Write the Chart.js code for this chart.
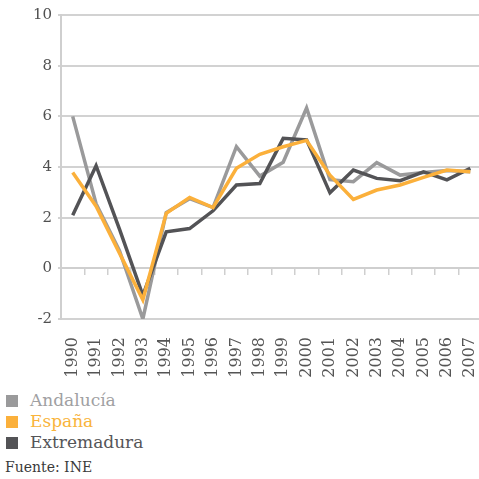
<!DOCTYPE html>
<html>
<head>
<meta charset="utf-8">
<script src="https://cdn.jsdelivr.net/npm/chart.js@4/dist/chart.umd.min.js"></script>
<style>
html,body{margin:0;padding:0;background:#fff;overflow:hidden;}
#wrap{position:relative;width:482px;height:382px;}
#legend{font-family:"DejaVu Serif",serif;font-size:17px;margin-top:8px;}
.row{height:21px;line-height:21px;display:flex;align-items:center;}
.sq{width:12px;height:12px;margin-left:6px;margin-right:12px;}
#src{font-family:"DejaVu Serif",serif;font-size:14px;color:#3a3a3a;margin:6px 0 0 5px;}
</style>
</head>
<body>
<div id="wrap"><canvas id="c"></canvas></div>
<div id="legend"></div>
<div id="src">Fuente: INE</div>
<script>
const years = ["1990","1991","1992","1993","1994","1995","1996","1997","1998","1999","2000","2001","2002","2003","2004","2005","2006","2007"];
const andalucia = [6.0, 2.55, 0.7, -2.0, 2.2, 2.75, 2.4, 4.8, 3.64, 4.19, 6.33, 3.5, 3.42, 4.17, 3.68, 3.78, 3.86, 3.81];
const espana = [3.78, 2.45, 0.6, -1.24, 2.17, 2.8, 2.4, 3.95, 4.5, 4.8, 5.05, 3.68, 2.72, 3.09, 3.29, 3.59, 3.88, 3.81];
const extremadura = [2.1, 4.05, 1.55, -1.07, 1.44, 1.57, 2.27, 3.29, 3.35, 5.13, 5.07, 2.98, 3.88, 3.55, 3.46, 3.81, 3.49, 3.95];
const seriesNames = ["Andalucía", "España", "Extremadura"];
const lineColors = ["#9a9a9b", "#fbb03b", "#535356"];
const textColors = ["#a0a0a2", "#f9b43c", "#555558"];
const yTicks = [-2, 0, 2, 4, 6, 8, 10];

const leg = document.getElementById('legend');
seriesNames.forEach((n,i)=>{
  const r=document.createElement('div');r.className='row';
  const s=document.createElement('span');s.className='sq';s.style.background=lineColors[i];
  const t=document.createElement('span');t.textContent=n;t.style.color=textColors[i];
  r.appendChild(s);r.appendChild(t);leg.appendChild(r);
});

const yFont = {family:"DejaVu Serif", size:15};
const xFont = {family:"DejaVu Serif", size:16};
new Chart(document.getElementById('c'), {
  type:'line',
  data:{
    labels: years,
    datasets:[
      {label:seriesNames[0], data:andalucia, borderColor:lineColors[0], order:2},
      {label:seriesNames[1], data:espana, borderColor:lineColors[1], order:0},
      {label:seriesNames[2], data:extremadura, borderColor:lineColors[2], order:1}
    ].map(d=>Object.assign(d,{borderWidth:3.5, pointRadius:0, tension:0, fill:false, borderJoinStyle:'miter'}))
  },
  options:{
    responsive:true, maintainAspectRatio:false, animation:false,
    layout:{padding:{top:14, right:0, left:0, bottom:0}},
    plugins:{legend:{display:false}, tooltip:{enabled:false}},
    scales:{
      x:{
        offset:true,
        grid:{display:false, drawTicks:true, tickLength:8},
        border:{display:false},
        ticks:{font:xFont, color:'#555555', minRotation:90, maxRotation:90, padding:10, autoSkip:false},
        afterFit:(s)=>{ s.height = 63; s.paddingLeft = 0; s.paddingRight = 0; }
      },
      x0:{
        type:'category', axis:'x', labels:years, offset:true,
        position:{y:0},
        grid:{drawOnChartArea:false, drawTicks:true, tickLength:6, color:'#cfcfcf', lineWidth:1.5, offset:true},
        border:{display:true, color:'#cfcfcf', width:2},
        ticks:{display:false},
        afterFit:(s)=>{ s.paddingLeft = 0; s.paddingRight = 0; }
      },
      y:{
        min:-2, max:10,
        afterBuildTicks:(s)=>{ s.ticks = yTicks.map(v=>({value:v})); },
        afterFit:(s)=>{ s.width = 61; },
        grid:{color:'#d2d2d2', lineWidth:2, drawTicks:true, tickLength:3},
        border:{display:true, color:'#cfcfcf', width:2},
        ticks:{font:yFont, color:'#505050', padding:6}
      }
    }
  }
});
</script>
</body>
</html>
